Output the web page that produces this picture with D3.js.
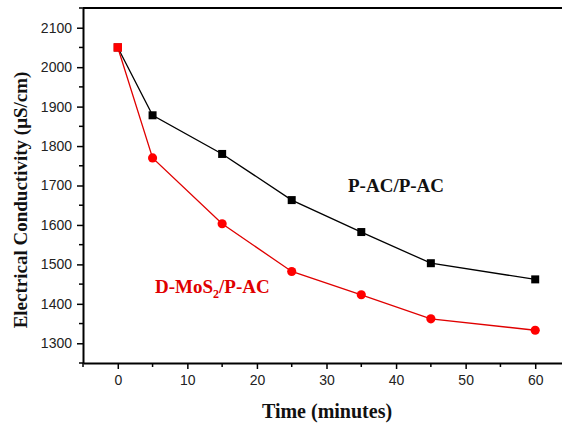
<!DOCTYPE html>
<html>
<head>
<meta charset="utf-8">
<script src="https://cdn.jsdelivr.net/npm/d3@7"></script>
<style>
body { margin: 0; background: #fff; }
</style>
</head>
<body>
<script>
const width = 562;
const height = 425;

// data
const times = [0, 5, 15, 25, 35, 45, 60];
const pacValues = [2050, 1878, 1780, 1663, 1582, 1503, 1462];
const dmosValues = [2050, 1770, 1603, 1482, 1423, 1362, 1333];
const xTicks = [0, 10, 20, 30, 40, 50, 60];
const yTicks = [1300, 1400, 1500, 1600, 1700, 1800, 1900, 2000, 2100];

const svg = d3.select("body").append("svg")
    .attr("width", width)
    .attr("height", height);

const x = d3.scaleLinear().domain([-5, 65]).range([83, 570]);
const y = d3.scaleLinear().domain([1250, 2150]).range([363, 8]);

const serif = "'Liberation Serif', 'Times New Roman', serif";
const sans = "'Liberation Sans', Arial, sans-serif";

// top frame line
svg.append("line")
    .attr("x1", x(-5)).attr("x2", width)
    .attr("y1", y(2150)).attr("y2", y(2150))
    .style("stroke", "#000").style("stroke-width", 2);

// minor ticks
const minorX = d3.range(-5, 66, 10);
const minorY = d3.range(1250, 2151, 100);

const xAxis = svg.append("g").attr("transform", `translate(0,${y(1250)})`);
xAxis.call(d3.axisBottom(x).tickValues(xTicks).tickFormat(d3.format("d"))
    .tickSize(6).tickPadding(6).tickSizeOuter(0));
xAxis.selectAll(".minor").data(minorX).enter().append("line")
    .attr("x1", d => x(d)).attr("x2", d => x(d))
    .attr("y1", 0).attr("y2", 4)
    .style("stroke", "#000").style("stroke-width", 1.5);

const yAxis = svg.append("g").attr("transform", `translate(${x(-5)},0)`);
yAxis.call(d3.axisLeft(y).tickValues(yTicks).tickFormat(d3.format("d"))
    .tickSize(6).tickPadding(5).tickSizeOuter(0));
yAxis.selectAll(".minor").data(minorY).enter().append("line")
    .attr("x1", 0).attr("x2", -4)
    .attr("y1", d => y(d)).attr("y2", d => y(d))
    .style("stroke", "#000").style("stroke-width", 1.5);

svg.selectAll(".domain").style("stroke", "#000").style("stroke-width", 2);
svg.selectAll(".tick line").style("stroke", "#000").style("stroke-width", 1.5);
svg.selectAll(".tick text")
    .style("font-family", sans)
    .style("font-size", "14px")
    .style("fill", "#222");

// series
const pac = times.map((t, i) => ({ t: t, v: pacValues[i] }));
const dmos = times.map((t, i) => ({ t: t, v: dmosValues[i] }));

const line = d3.line().x(d => x(d.t)).y(d => y(d.v));

svg.append("path").datum(pac)
    .attr("d", line)
    .style("fill", "none").style("stroke", "#000").style("stroke-width", 1.3);

svg.append("path").datum(dmos)
    .attr("d", line)
    .style("fill", "none").style("stroke", "#e00000").style("stroke-width", 1.3);

svg.selectAll(".pac").data(pac).enter().append("rect")
    .attr("x", d => x(d.t) - 4)
    .attr("y", d => y(d.v) - 4)
    .attr("width", 8).attr("height", 8)
    .style("fill", "#000");

// red series: first point drawn as a square over the shared start
svg.selectAll(".dmos").data(dmos).enter().append("path")
    .attr("transform", d => `translate(${x(d.t)},${y(d.v)})`)
    .attr("d", d => d3.symbol().type(d.t === 0 ? d3.symbolSquare : d3.symbolCircle).size(d.t === 0 ? 72 : 66)())
    .style("fill", "#ff0000");

// series labels
svg.append("text")
    .attr("x", 348).attr("y", 192)
    .style("font-family", serif).style("font-weight", "bold").style("font-size", "19px")
    .style("fill", "#111")
    .text("P-AC/P-AC");

const lab = svg.append("text")
    .attr("x", 155).attr("y", 293)
    .style("font-family", serif).style("font-weight", "bold").style("font-size", "19px")
    .style("fill", "#e00000");
lab.append("tspan").text("D-MoS");
lab.append("tspan").attr("dy", 5).style("font-size", "12px").text("2");
lab.append("tspan").attr("dy", -5).text("/P-AC");

// axis titles
svg.append("text")
    .attr("x", 327).attr("y", 418)
    .attr("text-anchor", "middle")
    .style("font-family", serif).style("font-weight", "bold").style("font-size", "20px")
    .style("fill", "#111")
    .text("Time (minutes)");

svg.append("text")
    .attr("transform", "translate(27,200) rotate(-90)")
    .attr("text-anchor", "middle")
    .style("font-family", serif).style("font-weight", "bold").style("font-size", "19px")
    .style("fill", "#111")
    .text("Electrical Conductivity (\u03bcS/cm)");
</script>
</body>
</html>
